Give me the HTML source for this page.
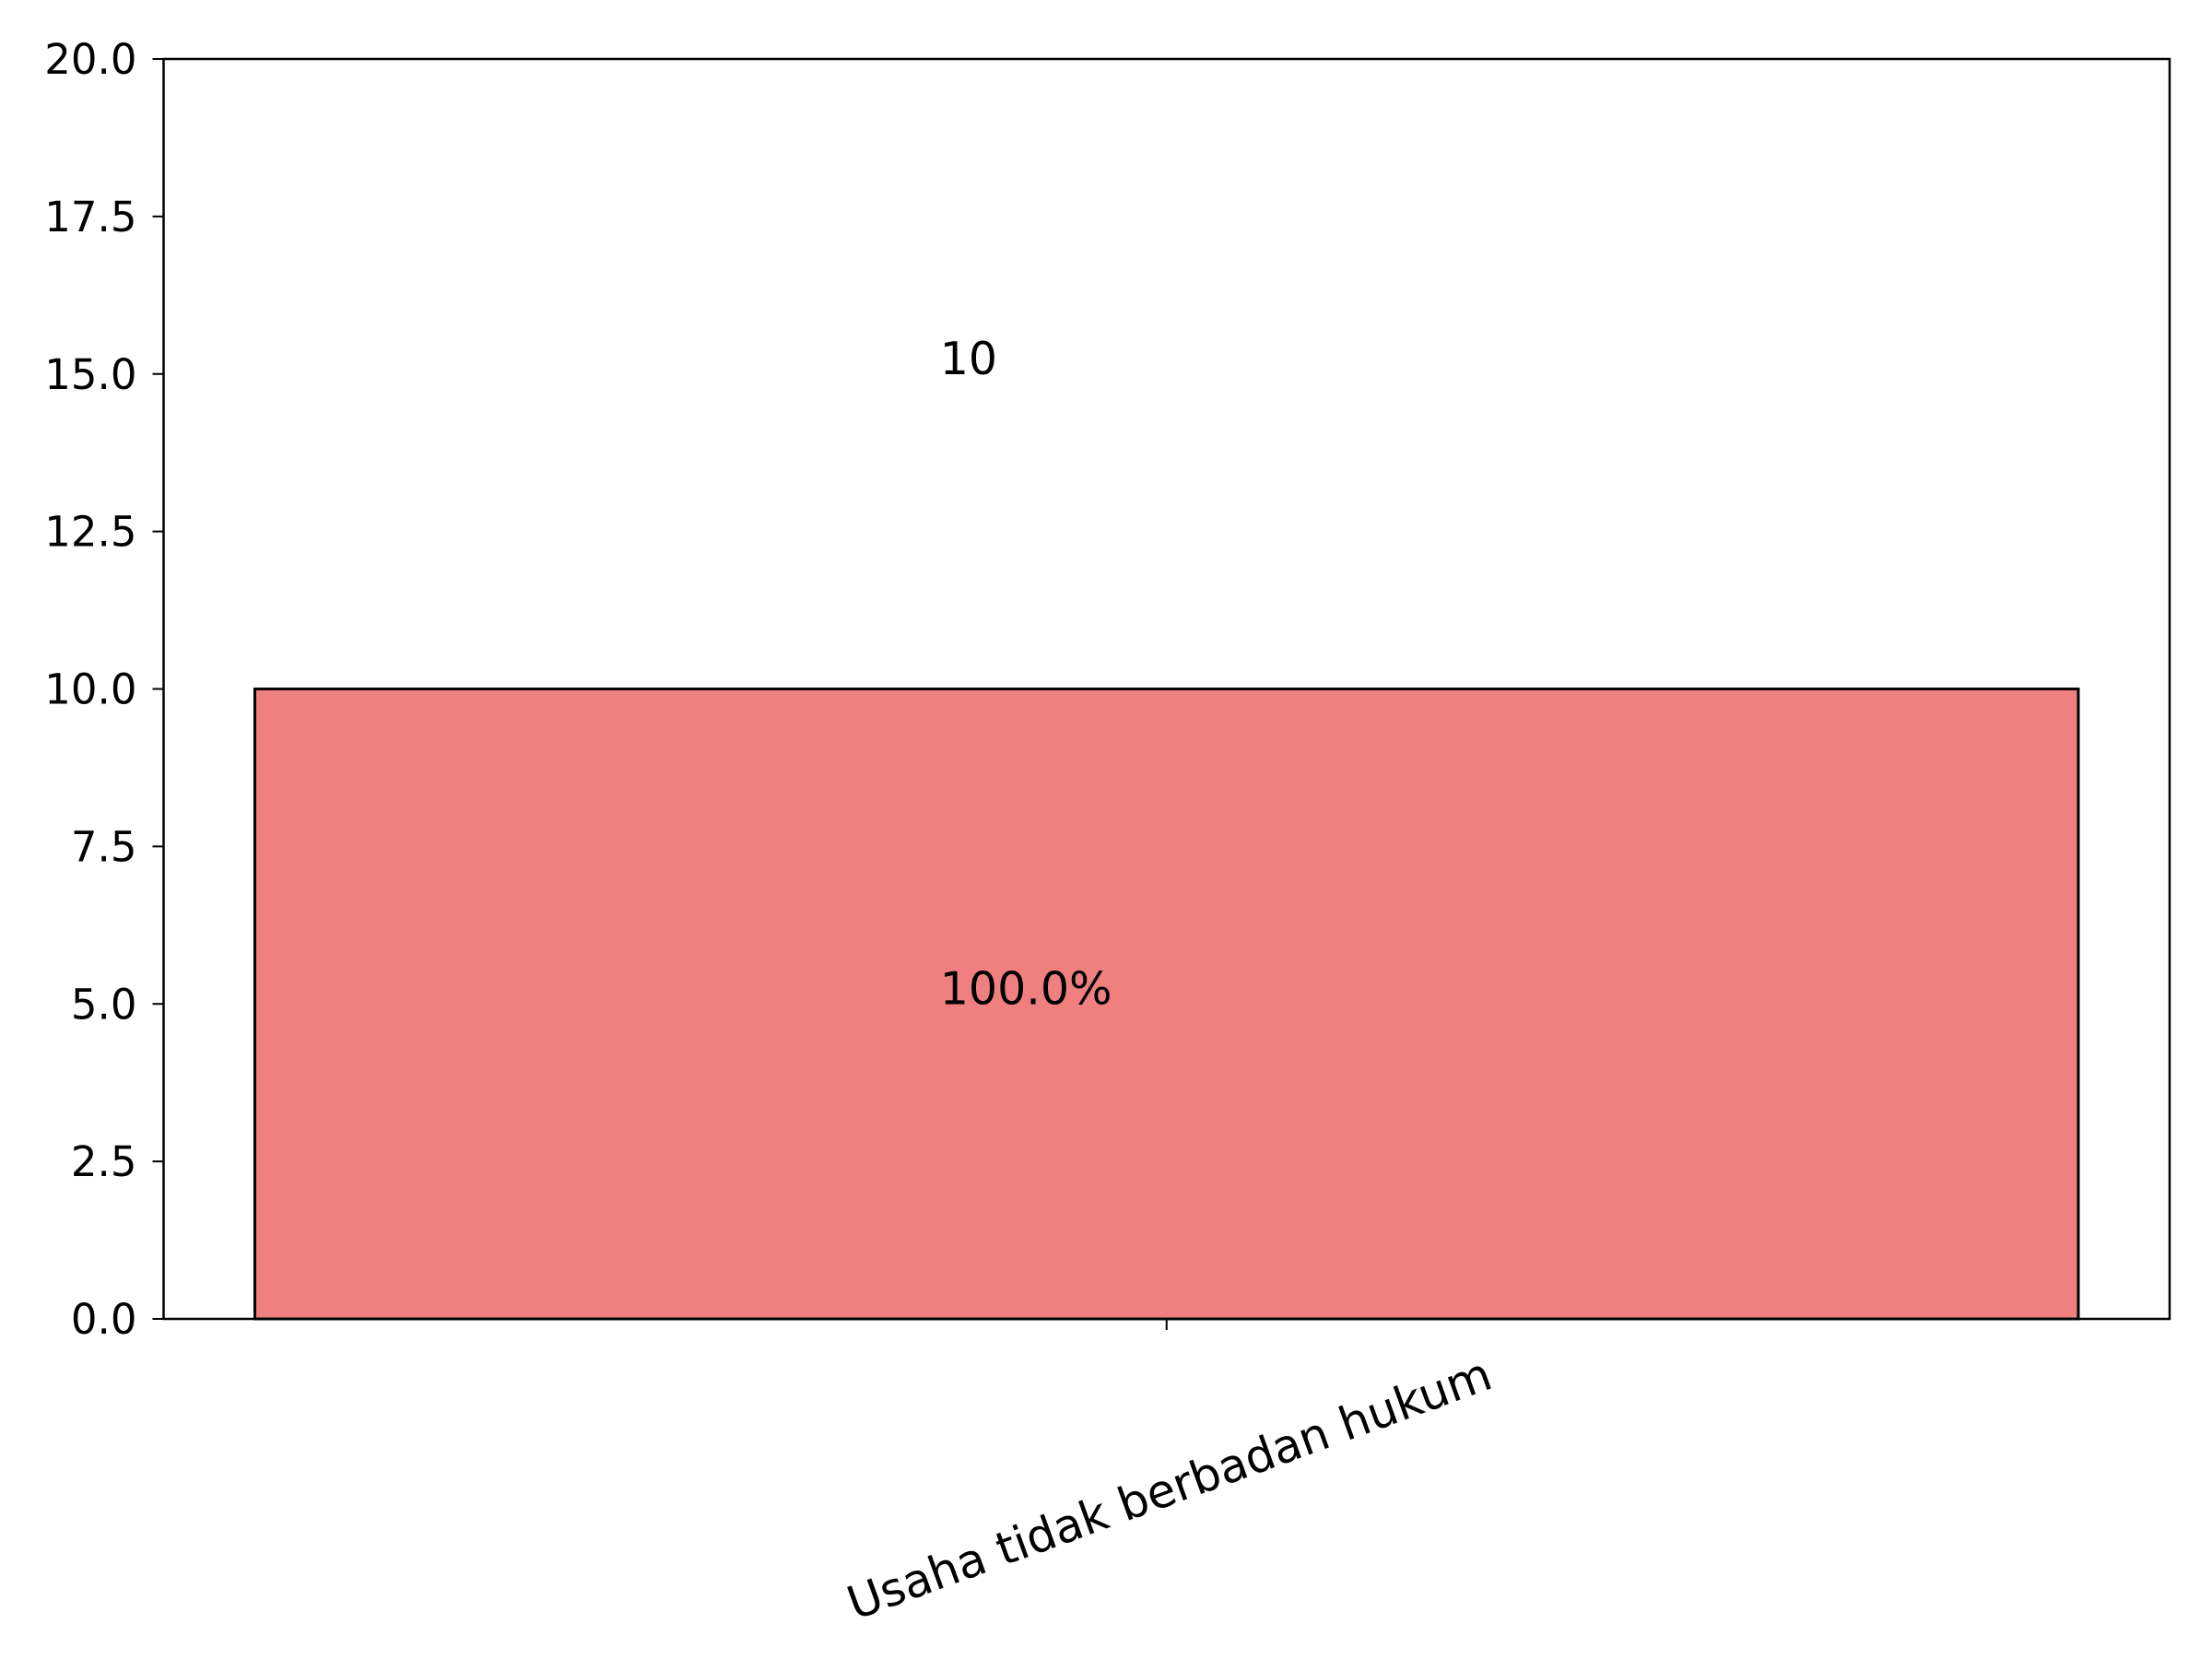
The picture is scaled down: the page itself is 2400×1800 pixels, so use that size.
<!DOCTYPE html>
<html><head><meta charset="utf-8"><style>
html,body{margin:0;padding:0;background:#fff}
svg{display:block;font-family:"DejaVu Sans","Liberation Sans",sans-serif}
</style></head><body>
<svg id="chart" width="2400" height="1800" viewBox="0 0 2400 1800" xmlns="http://www.w3.org/2000/svg"></svg>
<script>
const categories = ["Usaha tidak berbadan hukum"];
const values = [10];
const percentLabels = ["100.0%"];
const yTicks = [0, 2.5, 5, 7.5, 10, 12.5, 15, 17.5, 20];
const yTickLabels = ["0.0","2.5","5.0","7.5","10.0","12.5","15.0","17.5","20.0"];

const L=177.5, R=2354, T=64, B=1431;
const yMax=20;
const y = v => B - v/yMax*(B-T);
const xCenter = i => L + (i+0.5)*(R-L)/categories.length;
const barW = (R-L)*0.909;
const NS="http://www.w3.org/2000/svg";
const svg=document.getElementById('chart');
function mk(tag, attrs){const e=document.createElementNS(NS,tag);for(const k in attrs)e.setAttribute(k,attrs[k]);svg.appendChild(e);return e;}

values.forEach((v,i)=>{
  const cx=xCenter(i);
  const r=mk('rect',{x:cx-barW/2,y:y(v),width:barW,height:B-y(v),fill:'#f08080',stroke:'#000','stroke-width':3});
  
  
  const t1=mk('text',{x:cx-246,y:y(v+5),'font-size':49,fill:'#000'});
  t1.textContent=String(v);
  
  
  const t2=mk('text',{x:cx-246,y:y(v/2),'font-size':49,fill:'#000'});
  t2.textContent=percentLabels[i];
  
  
  const tk=mk('line',{x1:cx,x2:cx,y1:B,y2:B+12,stroke:'#000','stroke-width':2});
  
  
  const lx=cx+356, ly=B+74;
  const xl=mk('text',{x:lx,y:ly,'font-size':50,'text-anchor':'end',transform:`rotate(-20 ${lx} ${ly})`,fill:'#000'});
  xl.textContent=categories[i];
  
  
});

yTicks.forEach((v,i)=>{
  const ln=mk('line',{x1:L-12,x2:L,y1:y(v),y2:y(v),stroke:'#000','stroke-width':2});
  
  
  const t=mk('text',{x:L-29,y:y(v)+16,'font-size':45,'text-anchor':'end',fill:'#000'});
  t.textContent=yTickLabels[i];
  
  
});

const frame=mk('rect',{x:L,y:T,width:R-L,height:B-T,fill:'none',stroke:'#000','stroke-width':2.5});


</script>
</body></html>
